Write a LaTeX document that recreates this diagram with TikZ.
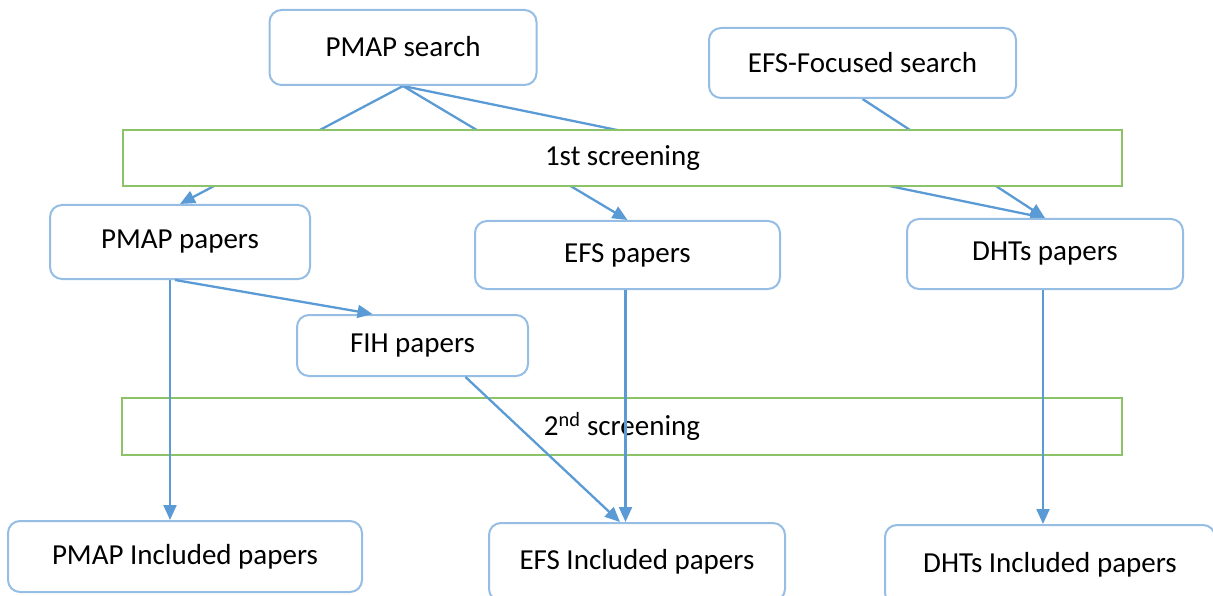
\documentclass[tikz,border=0pt]{standalone}
\usepackage{fontspec}
\setmainfont{Carlito}
\usetikzlibrary{arrows.meta,backgrounds}
\definecolor{boxblue}{RGB}{150,190,228}
\definecolor{lineblue}{RGB}{91,155,213}
\definecolor{screengreen}{RGB}{140,195,105}
\tikzset{
  paperbox/.style={draw=boxblue,line width=2pt,rounded corners=12pt,
    fill=white,inner sep=0pt,font=\fontsize{29}{34}\selectfont},
  screenbox/.style={draw=screengreen,line width=2pt,inner sep=0pt,
    font=\fontsize{29}{34}\selectfont},
  flow/.style={draw=lineblue,line width=2.3pt,-{Triangle[length=15pt,width=13pt]}}
}
\begin{document}
\begin{tikzpicture}[x=1pt,y=-1pt]
  \useasboundingbox (0,0) rectangle (1213,596);
  % searches
  \node[paperbox,minimum width=267,minimum height=75] (pmapsearch) at (403,47.5)
    {\raisebox{3pt}{PMAP search}};
  \node[paperbox,minimum width=307,minimum height=70] (efssearch) at (862.5,63)
    {\raisebox{2pt}{EFS-Focused search}};
  % screenings
  \node[screenbox,fill=white,minimum width=999,minimum height=56] (screenone)
    at (622.5,158) {1st screening};
  \node[screenbox,minimum width=1000,minimum height=57] (screentwo)
    at (622,426.5) {2\textsuperscript{nd} screening};
  % papers
  \node[paperbox,minimum width=260,minimum height=74] (pmappapers) at (180,242)
    {PMAP papers};
  \node[paperbox,minimum width=305,minimum height=68] (efspapers) at (627.5,255)
    {EFS papers};
  \node[paperbox,minimum width=276,minimum height=70] (dhtspapers) at (1045,254)
    {DHTs papers};
  \node[paperbox,minimum width=231,minimum height=61] (fihpapers) at (412.5,345.5)
    {FIH papers};
  % included
  \node[paperbox,minimum width=354,minimum height=71] (pmapinc) at (185,556.5)
    {PMAP Included papers};
  \node[paperbox,minimum width=296,minimum height=78] (efsinc) at (637,562)
    {\raisebox{4pt}{EFS Included papers}};
  \node[paperbox,minimum width=330,minimum height=80] (dhtsinc) at (1050,565)
    {\raisebox{4pt}{DHTs Included papers}};
  % through the 1st screening
  \begin{pgfonlayer}{background}
    \draw[flow] (pmapsearch.south) -- (pmappapers.north);
    \draw[flow] (pmapsearch.south) -- (efspapers.north);
    \draw[flow] (pmapsearch.south) -- (dhtspapers.north);
    \draw[flow] (efssearch.south) -- (dhtspapers.north);
  \end{pgfonlayer}
  % through the 2nd screening
  \draw[flow] ([xshift=-10pt]pmappapers.south)
    -- ([xshift=-10pt]pmappapers.south |- pmapinc.north);
  \draw[flow] ([xshift=-5pt]pmappapers.south) -- ([xshift=-40pt]fihpapers.north);
  \draw[flow] ([xshift=53pt]fihpapers.south) -- ([xshift=-17pt]efsinc.north);
  \draw[flow] ([xshift=-2pt]efspapers.south)
    -- ([xshift=-2pt]efspapers.south |- efsinc.north);
  \draw[flow] ([xshift=-2pt]dhtspapers.south)
    -- ([xshift=-2pt]dhtspapers.south |- dhtsinc.north);
\end{tikzpicture}
\end{document}
